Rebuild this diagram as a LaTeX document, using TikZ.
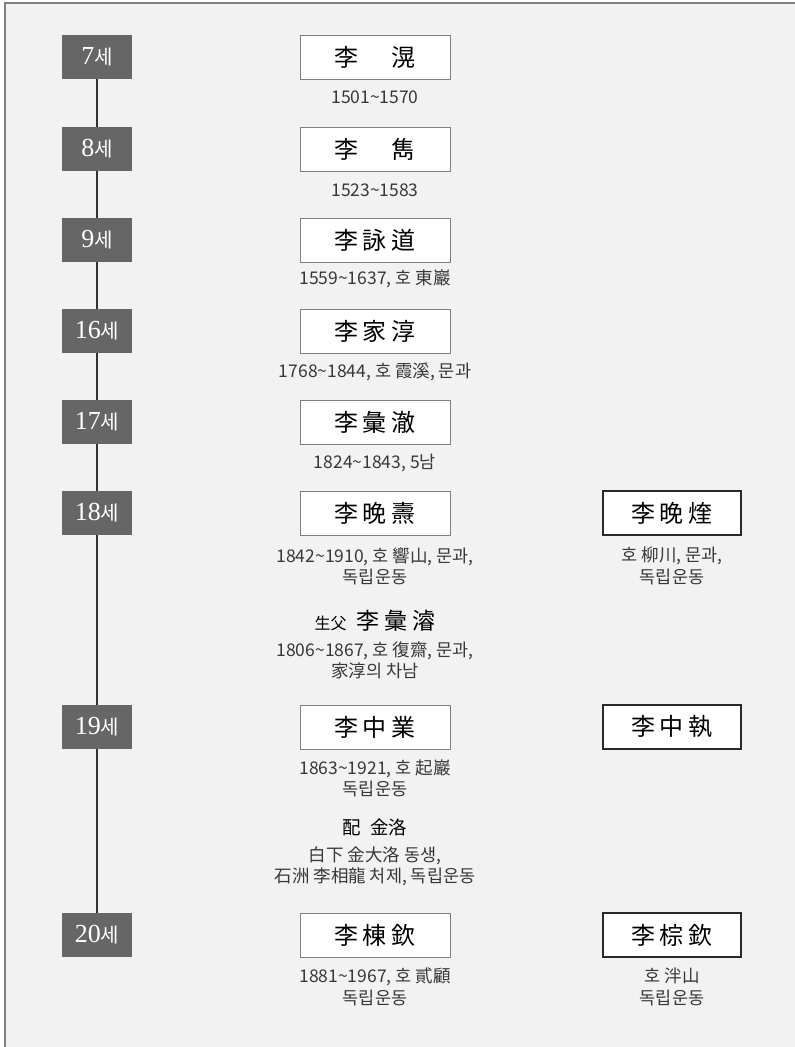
\documentclass[tikz,border=0pt]{standalone}
\usepackage{fontspec}
\setmainfont{Noto Sans CJK KR}
\newfontfamily\cjk{Noto Sans CJK KR}
\newfontfamily\serifnum{Liberation Serif}
\definecolor{bgcol}{HTML}{F2F2F2}
\definecolor{framecol}{HTML}{808080}
\definecolor{genfill}{HTML}{666666}
\definecolor{linecol}{HTML}{333333}
\definecolor{boxline}{HTML}{808080}
\definecolor{rboxline}{HTML}{2A2A2A}
\definecolor{infotext}{HTML}{383838}
\newcommand{\gennum}[1]{{\serifnum\fontsize{26}{26}\selectfont #1}{\cjk\fontsize{20}{20}\selectfont 세}}
\newcommand{\nm}[3]{#1\hspace{5pt}#2\hspace{5pt}#3}
\begin{document}
\begin{tikzpicture}[x=1pt,y=-1pt,
  gen/.style={fill=genfill, minimum width=70pt, minimum height=44pt, inner sep=0pt, text=white},
  namebox/.style={draw=boxline, fill=white, line width=1pt, minimum width=150pt, minimum height=44pt, inner sep=0pt, text=black, font=\cjk\fontsize{24}{24}\selectfont},
  rbox/.style={namebox, draw=rboxline, minimum width=138pt, line width=1.3pt},
  info/.style={align=center, inner sep=0pt, text=infotext, font=\cjk\fontsize{17.5}{21.5}\selectfont},
  gline/.style={draw=linecol, line width=1.6pt}]
\useasboundingbox (0,0) rectangle (795,1047);
\fill[white] (0,0) rectangle (795,1047);
\fill[bgcol] (5,3) rectangle (795,1047);
\draw[framecol, line width=1.2pt] (5,1047) -- (5,3) -- (795,3);

% generations
\node[gen] (g7)  at (97,57)  {\gennum{7}};
\node[gen] (g8)  at (97,149) {\gennum{8}};
\node[gen] (g9)  at (97,240) {\gennum{9}};
\node[gen] (g16) at (97,331) {\gennum{16}};
\node[gen] (g17) at (97,422) {\gennum{17}};
\node[gen] (g18) at (97,513) {\gennum{18}};
\node[gen] (g19) at (97,727) {\gennum{19}};
\node[gen] (g20) at (97,935) {\gennum{20}};
\draw[gline] (g7) -- (g8);
\draw[gline] (g8) -- (g9);
\draw[gline] (g9) -- (g16);
\draw[gline] (g16) -- (g17);
\draw[gline] (g17) -- (g18);
\draw[gline] (g18) -- (g19);
\draw[gline] (g19) -- (g20);

% main column
\node[namebox] (n7)  at (375,57)  {李\hspace{33pt}滉};
\node[info]    (i7)  at (375,97)  {1501\textasciitilde1570};
\node[namebox] (n8)  at (375,149) {李\hspace{33pt}雋};
\node[info]    (i8)  at (375,190) {1523\textasciitilde1583};
\node[namebox] (n9)  at (375,240) {\nm{李}{詠}{道}};
\node[info]    (i9)  at (375,279) {1559\textasciitilde1637, 호 東巖};
\node[namebox] (n16) at (375,331) {\nm{李}{家}{淳}};
\node[info]    (i16) at (375,372) {1768\textasciitilde1844, 호 霞溪, 문과};
\node[namebox] (n17) at (375,422) {\nm{李}{彙}{澈}};
\node[info]    (i17) at (375,463) {1824\textasciitilde1843, 5남};
\node[namebox] (n18) at (375,513) {\nm{李}{晩}{燾}};
\node[info]    (i18) at (375,566.5) {1842\textasciitilde1910, 호 響山, 문과,\\독립운동};
\node[inner sep=0pt, text=black] (sf) at (375,621)
  {{\cjk\fontsize{16}{16}\selectfont 生父}\hspace{10pt}{\cjk\fontsize{23}{23}\selectfont \nm{李}{彙}{濬}}};
\node[info]    (isf) at (375,660.5) {1806\textasciitilde1867, 호 復齋, 문과,\\家淳의 차남};
\node[namebox] (n19) at (375,727) {\nm{李}{中}{業}};
\node[info]    (i19) at (375,778.5) {1863\textasciitilde1921, 호 起巖\\독립운동};
\node[inner sep=0pt, text=black, font=\cjk\fontsize{18.5}{18.5}\selectfont] (pe) at (375,827) {配\hspace{9pt}金洛};
\node[info]    (ipe) at (375,866.5) {白下 金大洛 동생,\\石洲 李相龍 처제, 독립운동};
\node[namebox] (n20) at (375,935) {\nm{李}{棟}{欽}};
\node[info]    (i20) at (375,987) {1881\textasciitilde1967, 호 貳顧\\독립운동};

% right column
\node[rbox] (r18) at (672,513) {\nm{李}{晩}{煃}};
\node[info] (ir18) at (672,566) {호 柳川, 문과,\\독립운동};
\node[rbox] (r19) at (672,727) {\nm{李}{中}{執}};
\node[rbox] (r20) at (672,935) {\nm{李}{棕}{欽}};
\node[info] (ir20) at (672,987) {호 泮山\\독립운동};
\end{tikzpicture}
\end{document}
